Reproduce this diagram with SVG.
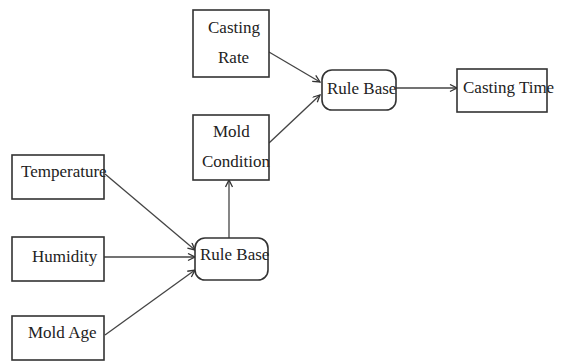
<svg xmlns="http://www.w3.org/2000/svg" width="565" height="361" viewBox="0 0 565 361">
<style>
.box{fill:#fff;stroke:#333;stroke-width:1.6}
.t{font-family:"Liberation Serif","Times New Roman",serif;font-size:17px;fill:#222}
.c{fill:none;stroke:#444;stroke-width:1.3}
</style>
<defs>
<marker id="a" markerWidth="10" markerHeight="10" refX="8" refY="4" orient="auto" markerUnits="userSpaceOnUse">
<path d="M1,0.5 L8,4 L1,7.5" fill="none" stroke="#333" stroke-width="1.3"/>
</marker>
</defs>
<rect width="565" height="361" fill="#fff"/>
<g id="connectors">
<line class="c" x1="105" y1="174" x2="195" y2="250" marker-end="url(#a)"/>
<line class="c" x1="104" y1="257" x2="195" y2="257" marker-end="url(#a)"/>
<line class="c" x1="105" y1="335" x2="195" y2="270" marker-end="url(#a)"/>
<line class="c" x1="229" y1="238" x2="229" y2="180" marker-end="url(#a)"/>
<line class="c" x1="269" y1="52" x2="320" y2="82" marker-end="url(#a)"/>
<line class="c" x1="269" y1="143" x2="320" y2="95" marker-end="url(#a)"/>
<line class="c" x1="396" y1="88" x2="457" y2="88" marker-end="url(#a)"/>
</g>
<g id="casting-rate">
<rect class="box" x="193" y="10" width="76" height="67"/>
<text class="t" x="208" y="33">Casting</text>
<text class="t" x="218" y="63">Rate</text>
</g>
<g id="mold-condition">
<rect class="box" x="193" y="115" width="76" height="65"/>
<text class="t" x="213" y="137">Mold</text>
<text class="t" x="202" y="167">Condition</text>
</g>
<g id="rule-base-top">
<rect class="box" x="322" y="70" width="74" height="40" rx="10"/>
<text class="t" x="327" y="94">Rule Base</text>
</g>
<g id="casting-time">
<rect class="box" x="457" y="69" width="90" height="43"/>
<text class="t" x="463" y="93">Casting Time</text>
</g>
<g id="temperature">
<rect class="box" x="12" y="155" width="92" height="44"/>
<text class="t" x="21" y="177">Temperature</text>
</g>
<g id="humidity">
<rect class="box" x="12" y="237" width="92" height="44"/>
<text class="t" x="32" y="262">Humidity</text>
</g>
<g id="mold-age">
<rect class="box" x="12" y="316" width="92" height="44"/>
<text class="t" x="28" y="338">Mold Age</text>
</g>
<g id="rule-base-bottom">
<rect class="box" x="195" y="238" width="73" height="42" rx="10"/>
<text class="t" x="200" y="260">Rule Base</text>
</g>
</svg>
